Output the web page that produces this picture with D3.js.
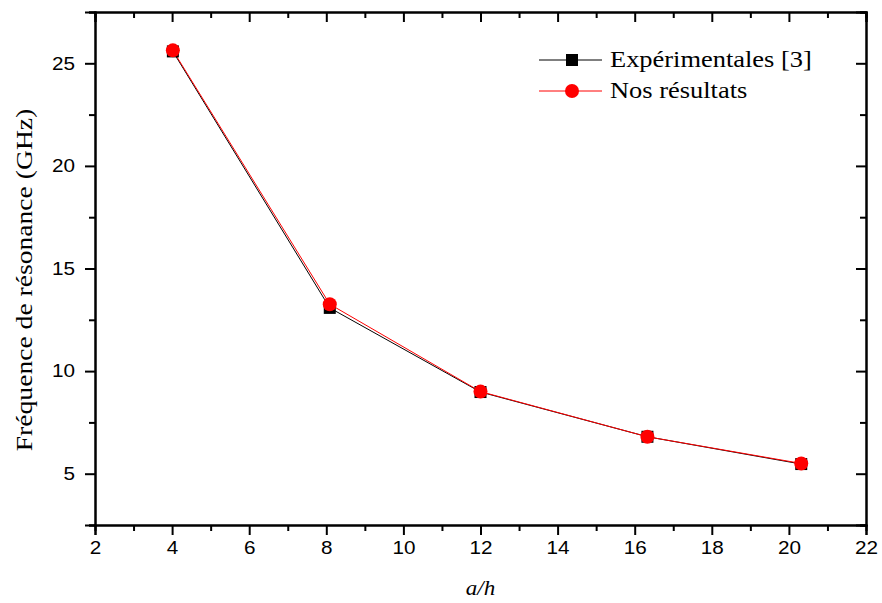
<!DOCTYPE html>
<html lang="fr">
<head>
<meta charset="UTF-8">
<title>Fréquence de résonance</title>
<script src="https://d3js.org/d3.v7.min.js"></script>
<style>
  body { margin: 0; background: #fff; }
  .tick text { font-family: "Liberation Sans", Arial, sans-serif; font-size: 18px; fill: #000; }
</style>
</head>
<body>
<svg id="chart" width="882" height="603"></svg>
<script>
  const ratio = [4.02, 8.09, 12.0, 16.33, 20.32];
  const experimental = [25.58, 13.08, 8.98, 6.80, 5.47];
  const ourResults = [25.63, 13.26, 9.00, 6.80, 5.50];
  const xTicks = [2, 4, 6, 8, 10, 12, 14, 16, 18, 20, 22];
  const yTicks = [5, 10, 15, 20, 25];
  const seriesNames = ["Expérimentales [3]", "Nos résultats"];

  const margin = { top: 12, right: 16, bottom: 78, left: 95 };
  const W = 882, H = 603;
  const width = W - margin.left - margin.right,
        height = H - margin.top - margin.bottom;
  const stretch = 1.15; // the original text is a bit wide

  const svg = d3.select("#chart");
  const g = svg.append("g").attr("transform", `translate(${margin.left},${margin.top})`);

  const x = d3.scaleLinear().domain([2, 22]).range([0, width]);
  const y = d3.scaleLinear().domain([2.5, 27.5]).range([height, 0]);

  const xMinor = d3.range(3, 22, 2);
  const yMinor = d3.range(2.5, 27.6, 5);

  // bottom axis (outward ticks)
  const axBottom = g.append("g").attr("transform", `translate(0,${height})`);
  axBottom.call(d3.axisBottom(x).tickValues(xTicks).tickSize(10).tickPadding(6).tickFormat(d3.format("d")));
  axBottom.append("g").call(d3.axisBottom(x).tickValues(xMinor).tickSize(6).tickFormat(""));
  axBottom.selectAll(".tick text").attr("transform", `scale(${stretch},1)`);

  // left axis (outward ticks)
  const axLeft = g.append("g");
  axLeft.call(d3.axisLeft(y).tickValues(yTicks).tickSize(10).tickPadding(8).tickFormat(d3.format("d")));
  axLeft.append("g").call(d3.axisLeft(y).tickValues(yMinor).tickSize(6).tickFormat(""));
  axLeft.selectAll(".tick text").attr("x", -20 / stretch).attr("transform", `scale(${stretch},1)`);

  // top axis (inward ticks)
  const axTop = g.append("g");
  axTop.call(d3.axisTop(x).tickValues(xTicks).tickSize(-10).tickFormat(""));
  axTop.append("g").call(d3.axisTop(x).tickValues(xMinor).tickSize(-6).tickFormat(""));

  // right axis (inward ticks)
  const axRight = g.append("g").attr("transform", `translate(${width},0)`);
  axRight.call(d3.axisRight(y).tickValues(yTicks).tickSize(-10).tickFormat(""));
  axRight.append("g").call(d3.axisRight(y).tickValues(yMinor).tickSize(-6).tickFormat(""));

  g.selectAll(".domain").attr("stroke", "#000").attr("stroke-width", 2);
  g.selectAll(".tick line").attr("stroke", "#000").attr("stroke-width", 2);

  // data
  const expData = ratio.map((r, i) => ({ x: r, y: experimental[i] }));
  const ourData = ratio.map((r, i) => ({ x: r, y: ourResults[i] }));

  const line = d3.line().x(d => x(d.x)).y(d => y(d.y));

  g.append("path").datum(expData)
    .attr("fill", "none").attr("stroke", "#000").attr("stroke-width", 1).attr("d", line);
  g.append("path").datum(ourData)
    .attr("fill", "none").attr("stroke", "#ff0000").attr("stroke-width", 1).attr("d", line);

  g.selectAll(".sq").data(expData).enter().append("rect")
    .attr("x", d => x(d.x) - 6).attr("y", d => y(d.y) - 6)
    .attr("width", 12).attr("height", 12).attr("fill", "#000");
  g.selectAll(".ci").data(ourData).enter().append("circle")
    .attr("cx", d => x(d.x)).attr("cy", d => y(d.y))
    .attr("r", 7).attr("fill", "#ff0000");

  // legend
  const leg = svg.append("g").attr("font-family", "'Liberation Serif', 'Times New Roman', serif").attr("font-size", 23);
  const legRows = [60, 91];
  seriesNames.forEach((name, i) => {
    const ly = legRows[i];
    const col = i === 0 ? "#000" : "#ff0000";
    leg.append("line").attr("x1", 539).attr("x2", 602).attr("y1", ly).attr("y2", ly)
      .attr("stroke", col).attr("stroke-width", 1);
    if (i === 0) {
      leg.append("rect").attr("x", 566).attr("y", ly - 6).attr("width", 12).attr("height", 12).attr("fill", col);
    } else {
      leg.append("circle").attr("cx", 572).attr("cy", ly).attr("r", 7).attr("fill", col);
    }
    leg.append("text")
      .attr("transform", `translate(610,${ly + 7}) scale(${stretch},1)`)
      .text(name);
  });

  // axis titles
  svg.append("text")
    .attr("transform", `translate(${margin.left + width / 2},595) scale(${stretch},1)`)
    .attr("text-anchor", "middle")
    .attr("font-family", "'Liberation Serif', 'Times New Roman', serif")
    .attr("font-style", "italic").attr("font-size", 20)
    .text("a/h");

  svg.append("text")
    .attr("transform", `translate(32,280) rotate(-90) scale(${stretch},1)`)
    .attr("text-anchor", "middle")
    .attr("font-family", "'Liberation Serif', 'Times New Roman', serif")
    .attr("font-size", 24)
    .text("Fréquence de résonance (GHz)");
</script>
</body>
</html>
